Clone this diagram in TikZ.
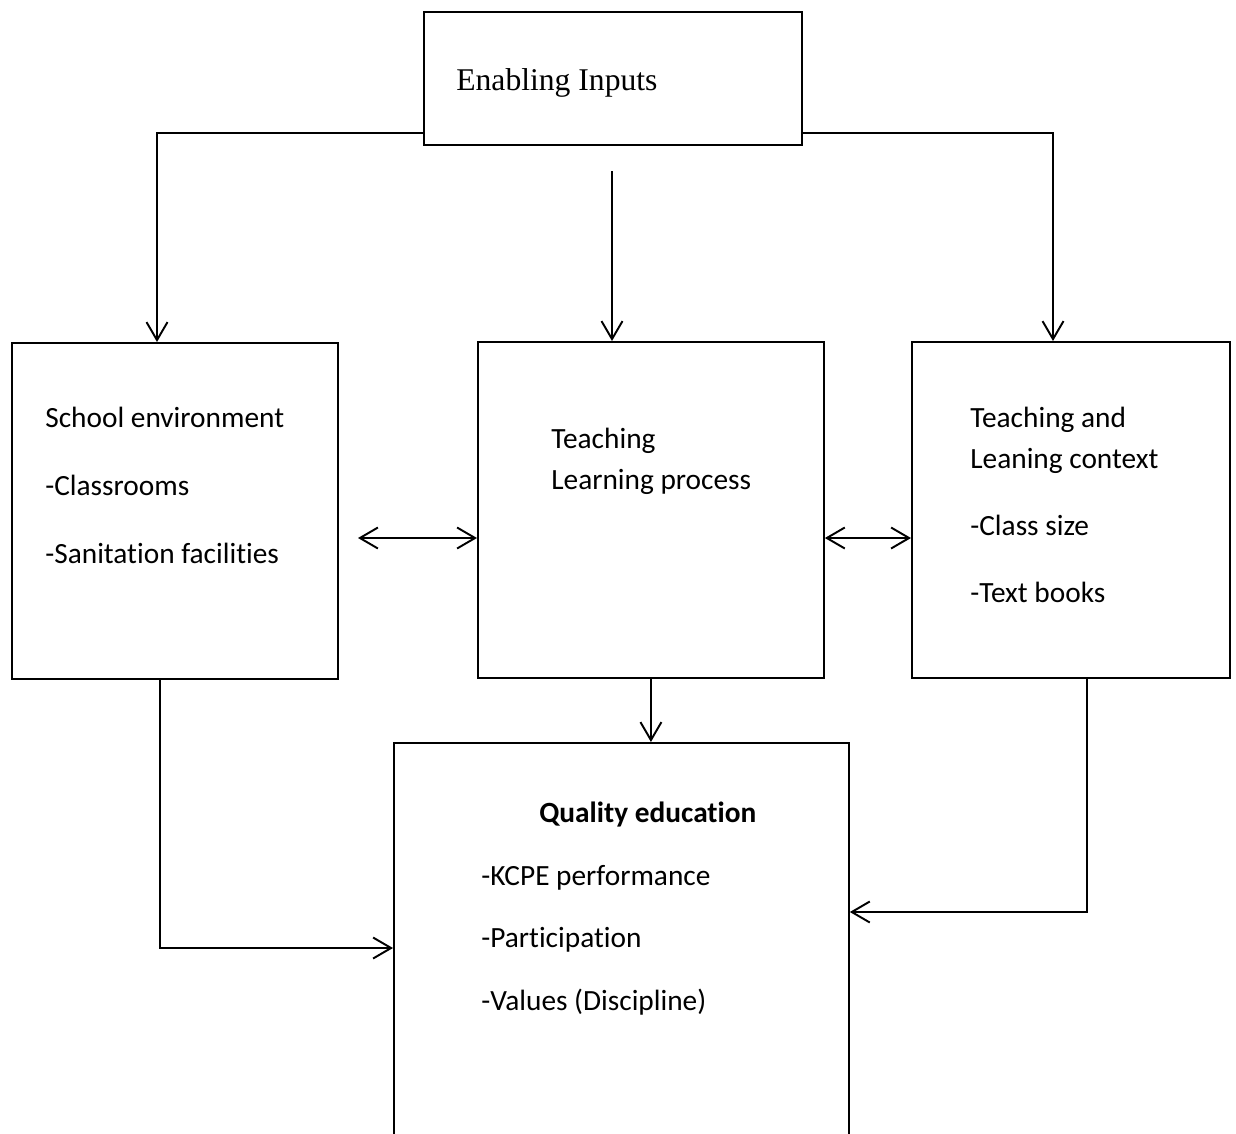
\documentclass[tikz,border=0pt]{standalone}
\usepackage{fontspec}
\setmainfont[Ligatures=NoCommon]{Carlito}
\newfontfamily\timesfont{Liberation Serif}
\usetikzlibrary{arrows.meta}
\tikzset{>={Straight Barb[length=3.6mm,width=4.2mm,line width=1.1pt]}}
\tikzset{
  box/.style={draw,line width=1.1pt,inner sep=0pt,anchor=north west},
  lbl/.style={anchor=base west,inner sep=0pt,font=\fontsize{16.7}{20}\selectfont},
  link/.style={line width=1.1pt}
}

\begin{document}
\begin{tikzpicture}[x=0.02cm,y=-0.02cm]
  \useasboundingbox (0,0) rectangle (1236,1133);
  % boxes
  \node[box,minimum width=7.56cm,minimum height=2.66cm] (inputs)  at (423,11)  {};
  \node[box,minimum width=6.52cm,minimum height=6.72cm] (env)     at (11,342)  {};
  \node[box,minimum width=6.92cm,minimum height=6.72cm] (process) at (477,341) {};
  \node[box,minimum width=6.36cm,minimum height=6.72cm] (context) at (911,341) {};
  \node[box,minimum width=9.10cm,minimum height=8.40cm] (quality) at (393,742) {};
  % texts
  \node[anchor=base west,inner sep=0pt,font=\timesfont\fontsize{18}{22}\selectfont] (t-inputs) at (456,90) {Enabling Inputs};
  \node[lbl] (t-env)   at (45,427)  {School environment};
  \node[lbl] (t-class) at (45,495)  {-Classrooms};
  \node[lbl] (t-san)   at (45,563)  {-Sanitation facilities};
  \node[lbl] (t-teach) at (551,448) {Teaching};
  \node[lbl] (t-learn) at (551,489) {Learning process};
  \node[lbl] (t-tand)  at (970,427) {Teaching and};
  \node[lbl] (t-lctx)  at (970,468) {Leaning context};
  \node[lbl] (t-size)  at (970,535) {-Class size};
  \node[lbl] (t-books) at (970,602) {-Text books};
  \node[lbl,font=\fontsize{16.7}{20}\selectfont\bfseries] (t-qual) at (539,822) {Quality education};
  \node[lbl] (t-kcpe)  at (481,885) {-KCPE performance};
  \node[lbl] (t-part)  at (481,947) {-Participation};
  \node[lbl] (t-val)   at (481,1010) {-Values (Discipline)};
  % connectors
  \coordinate (tl) at (157,133);
  \coordinate (tr) at (1053,133);
  \coordinate (mt) at (612,171);
  \coordinate (la) at (358,538);
  \coordinate (ra) at (866,538);
  \coordinate (lb) at (160,948);
  \coordinate (rb) at (1087,912);
  \draw[link,->] (inputs.west |- tl) -| (env.north -| tl);
  \draw[link,->] (inputs.east |- tr) -| (context.north -| tr);
  \draw[link,->] (mt) -- (process.north -| mt);
  \draw[link,<->] (la) -- (process.west |- la);
  \draw[link,<->] (process.east |- ra) -- (context.west |- ra);
  \draw[link,->] (process.south) -- (process.south |- quality.north);
  \draw[link,->] (env.south -| lb) |- (quality.west |- lb);
  \draw[link,->] (context.south -| rb) |- (quality.east |- rb);
\end{tikzpicture}
\end{document}
